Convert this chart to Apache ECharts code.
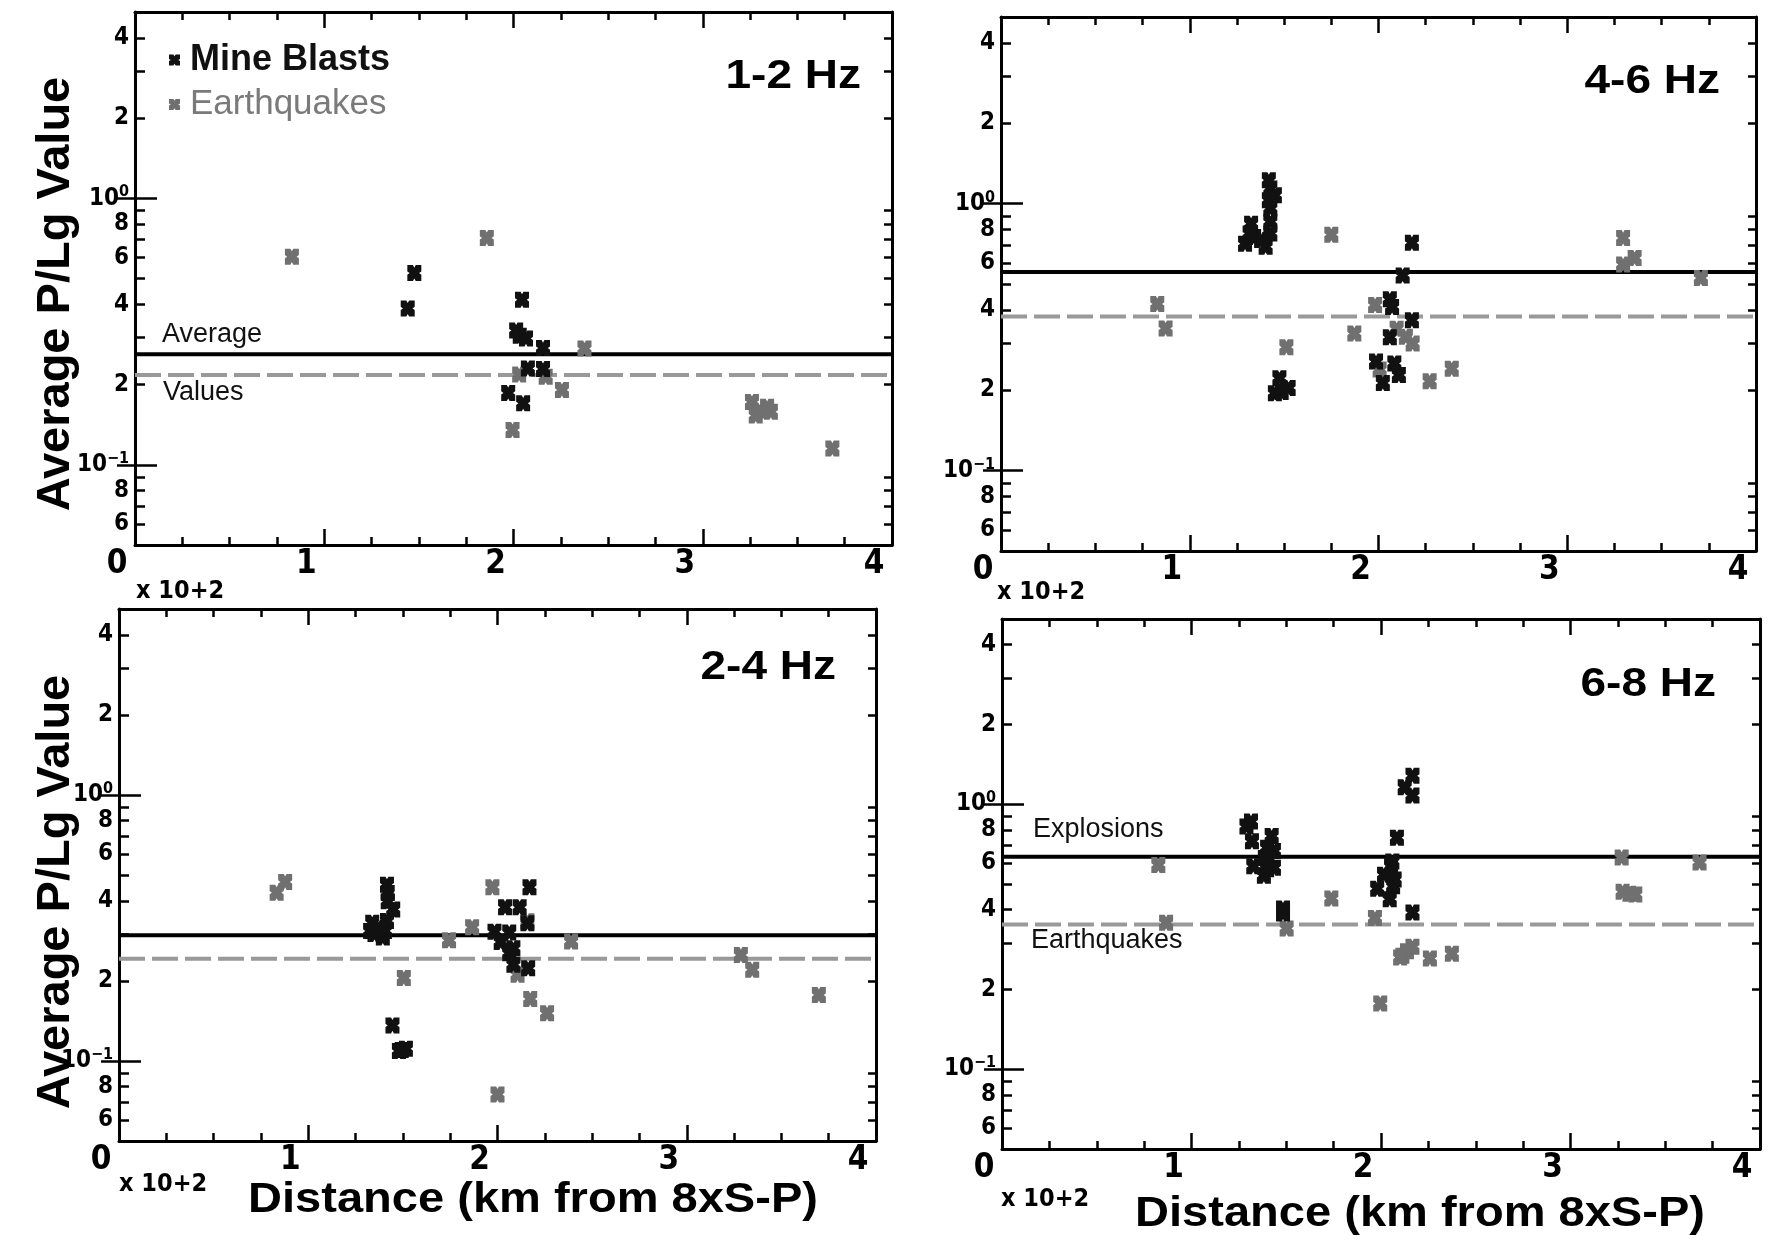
<!DOCTYPE html>
<html><head><meta charset="utf-8">
<script src="https://cdn.jsdelivr.net/npm/echarts@6/dist/echarts.min.js"></script>
<style>html,body{margin:0;padding:0;background:#fff}#c{width:1771px;height:1244px}</style>
</head><body><div id="c"></div>
<script>
// ---------- data ----------
const panelTitles = ['1-2 Hz', '4-6 Hz', '2-4 Hz', '6-8 Hz'];

// [distance km, average P/Lg]
const blasts12 = [[144.1,0.386],[147.6,0.524],[204.5,0.416],[201.4,0.319],[203.3,0.305],[206.6,0.298],[215.6,0.274],[207.6,0.230],[215.6,0.229],[197.2,0.186],[205.1,0.170]];
const quakes12 = [[82.9,0.604],[185.9,0.710],[237.5,0.273],[203,0.218],[217,0.214],[225.6,0.191],[199.5,0.135],[326,0.172],[330,0.160],[334,0.165],[328,0.153],[336,0.158],[368.5,0.115]];

const blasts46 = [[141.9,1.224],[142.7,1.139],[145.1,1.076],[141.9,1.03],[142.7,0.958],[132.5,0.841],[142.7,0.855],[129.3,0.708],[134.1,0.750],[137.8,0.730],[140.2,0.689],[142.7,0.773],[131.7,0.773],[217.7,0.713],[212.8,0.538],[206,0.438],[207.2,0.410],[217.7,0.366],[206,0.316],[198.7,0.256],[208.4,0.252],[210.8,0.228],[202.3,0.213],[147.5,0.222],[145.1,0.195],[148.7,0.197],[152.4,0.204]];
const quakes46 = [[82.8,0.421],[87.2,0.341],[175,0.765],[151.2,0.290],[187.2,0.326],[198.2,0.417],[209.6,0.340],[214.5,0.317],[218.1,0.299],[200.6,0.239],[227.1,0.216],[238.8,0.241],[329.6,0.743],[329.6,0.591],[335.7,0.626],[370.8,0.526]];

const blasts24 = [[141.6,0.460],[142,0.428],[142,0.398],[144.9,0.371],[133.8,0.331],[137.2,0.317],[132.7,0.308],[140.5,0.308],[139.4,0.291],[141.6,0.336],[135,0.300],[144.5,0.136],[149.4,0.110],[151.6,0.111],[147.9,0.109],[198.4,0.306],[204,0.378],[211.7,0.378],[216.9,0.450],[215.8,0.329],[201.7,0.280],[208.4,0.265],[206.2,0.254],[208.4,0.230],[216.2,0.223],[206.2,0.304]];
const quakes24 = [[83.3,0.429],[87.8,0.471],[150.5,0.205],[174.4,0.284],[186.6,0.318],[197.3,0.450],[200,0.0748],[215.8,0.335],[217.3,0.171],[226.2,0.151],[238.9,0.281],[210.6,0.211],[328.6,0.250],[334.6,0.220],[369.8,0.177]];

const blasts68 = [[131.4,0.860],[129,0.824],[131.9,0.725],[132.6,0.584],[138.2,0.537],[142.3,0.758],[139.9,0.685],[143.5,0.666],[141.1,0.620],[143.5,0.576],[139.9,0.568],[138.7,0.627],[148.3,0.404],[148.3,0.387],[216.6,1.28],[212.5,1.158],[216.6,1.079],[208.4,0.747],[206,0.608],[205.3,0.584],[201.6,0.542],[207.2,0.520],[198,0.480],[206.4,0.490],[204.6,0.438],[216.6,0.390]];
const quakes68 = [[82.5,0.590],[86.6,0.357],[150.2,0.340],[173.8,0.441],[196.8,0.372],[211.3,0.268],[213.7,0.279],[216.6,0.290],[210.1,0.264],[225.8,0.262],[237.4,0.273],[199.6,0.177],[327,0.629],[327.5,0.467],[331.1,0.459],[334.2,0.456],[368.1,0.603]];

const avgBlast = [0.26, 0.555, 0.297, 0.634];
const avgQuake = [0.217, 0.378, 0.242, 0.352];

const xRange = [0, 400];
const yRange = [0.05, 5];
const yLabelValues = [0.06, 0.08, 0.1, 0.2, 0.4, 0.6, 0.8, 1, 2, 4];
const yMinorTicks = [0.06, 0.07, 0.08, 0.09, 0.2, 0.3, 0.4, 0.5, 0.6, 0.7, 0.8, 0.9, 2, 3, 4];
const yMajorTicks = [0.1, 1];

const blastSets = [blasts12, blasts46, blasts24, blasts68];
const quakeSets = [quakes12, quakes46, quakes24, quakes68];

// ---------- layout ----------
const grids = [
  {left: 135, top: 12, width: 757, height: 533},
  {left: 1001, top: 17, width: 755, height: 534},
  {left: 119, top: 609, width: 757, height: 532},
  {left: 1002, top: 619, width: 758, height: 530}
];
const SANS = '"Liberation Sans", Arial, sans-serif';
const NARROW = '"Liberation Sans Narrow", "DejaVu Sans Condensed", "Arial Narrow", "Liberation Sans", sans-serif';
const XSHAPE = 'path://M0 0H4L5 1.6L6 0H10V4L8.4 5L10 6V10H6L5 8.4L4 10H0V6L1.6 5L0 4Z';
const AX = {color: '#000', width: 3};
const TK = {color: '#000', width: 2.5};

function yFmt(v) {
  if (Math.abs(v - 1) < 1e-9) return '{b|10}{s|0}';
  if (Math.abs(v - 0.1) < 1e-9) return '{b|10}{s|−1}';
  let d = v >= 1 ? v : (v >= 0.1 ? v * 10 : v * 100);
  return '{b|' + Math.round(d) + '}';
}

const xAxis = [], yAxis = [], series = [];
grids.forEach((g, i) => {
  const baseX = {gridIndex: i, type: 'value', min: xRange[0], max: xRange[1], interval: 100,
    axisLine: {show: true, onZero: false, lineStyle: AX},
    axisTick: {show: true, inside: true, length: 16, lineStyle: TK},
    minorTick: {show: true, splitNumber: 4, length: 8, lineStyle: TK},
    splitLine: {show: false}};
  xAxis.push(Object.assign({}, baseX, {position: 'bottom',
    axisLabel: {formatter: v => String(v / 100), fontSize: 33, fontWeight: 'bold', fontFamily: NARROW,
      color: '#000', margin: 3, padding: [0, 36, 0, 0]}}));
  xAxis.push(Object.assign({}, baseX, {position: 'top', axisLabel: {show: false}}));

  const baseY = {gridIndex: i, type: 'log', logBase: 10, min: yRange[0], max: yRange[1],
    splitLine: {show: false}, minorTick: {show: false}};
  yAxis.push(Object.assign({}, baseY, {position: 'left',
    axisLine: {show: true, onZero: false, lineStyle: AX},
    axisTick: {show: true, inside: true, length: 10, customValues: yMinorTicks, lineStyle: TK},
    axisLabel: {customValues: yLabelValues, formatter: yFmt, margin: 6, color: '#000',
      rich: {b: {fontSize: 24, fontWeight: 'bold', fontFamily: NARROW, color: '#000'},
             s: {fontSize: 16, fontWeight: 'bold', fontFamily: NARROW, color: '#000', padding: [0, 0, 12, 0]}}}}));
  yAxis.push(Object.assign({}, baseY, {position: 'left', axisLine: {show: false},
    axisTick: {show: true, inside: true, length: 22, customValues: yMajorTicks, lineStyle: TK},
    axisLabel: {show: false}}));
  yAxis.push(Object.assign({}, baseY, {position: 'right',
    axisLine: {show: true, onZero: false, lineStyle: AX},
    axisTick: {show: true, inside: true, length: 8, customValues: yMinorTicks, lineStyle: TK},
    axisLabel: {show: false}}));
  yAxis.push(Object.assign({}, baseY, {position: 'right', axisLine: {show: false},
    axisTick: {show: true, inside: true, length: 18, customValues: yMajorTicks, lineStyle: TK},
    axisLabel: {show: false}}));

  series.push({type: 'line', name: 'Blast average ' + panelTitles[i], xAxisIndex: i * 2, yAxisIndex: i * 4,
    data: [[xRange[0], avgBlast[i]], [xRange[1], avgBlast[i]]], symbol: 'none', silent: true,
    lineStyle: {color: '#000', width: 4}, z: 2});
  series.push({type: 'line', name: 'Quake average ' + panelTitles[i], xAxisIndex: i * 2, yAxisIndex: i * 4,
    data: [[xRange[0], avgQuake[i]], [xRange[1], avgQuake[i]]], symbol: 'none', silent: true,
    lineStyle: {color: '#999', width: 4, type: [26, 7]}, z: 2});
  series.push({type: 'scatter', name: 'Earthquakes', xAxisIndex: i * 2, yAxisIndex: i * 4,
    data: quakeSets[i], symbol: XSHAPE, symbolSize: [14, 16],
    itemStyle: {color: '#707070', opacity: 1}, z: 3});
  series.push({type: 'scatter', name: 'Mine Blasts', xAxisIndex: i * 2, yAxisIndex: i * 4,
    data: blastSets[i], symbol: XSHAPE, symbolSize: [14, 16],
    itemStyle: {color: '#111', opacity: 1}, z: 4});
});

function txt(x, y, text, o) {
  o = o || {};
  return {type: 'text', x: x, y: y, rotation: o.rot || 0, scaleX: o.sx || 1, z: 50,
    style: {text: text, fill: o.color || '#000', font: (o.weight || 'normal') + ' ' + o.size + 'px ' + (o.family || SANS),
      align: o.align || 'left', verticalAlign: 'middle'}};
}

const graphic = [
  txt(861, 77, panelTitles[0], {size: 40, weight: 'bold', align: 'right', sx: 1.15}),
  txt(1720, 82, panelTitles[1], {size: 40, weight: 'bold', align: 'right', sx: 1.15}),
  txt(836, 668, panelTitles[2], {size: 40, weight: 'bold', align: 'right', sx: 1.15}),
  txt(1716, 685, panelTitles[3], {size: 40, weight: 'bold', align: 'right', sx: 1.15}),
  txt(136, 591, 'x 10+2', {size: 25, weight: 'bold', family: NARROW}),
  txt(997, 592, 'x 10+2', {size: 25, weight: 'bold', family: NARROW}),
  txt(119, 1184, 'x 10+2', {size: 25, weight: 'bold', family: NARROW}),
  txt(1001, 1199, 'x 10+2', {size: 25, weight: 'bold', family: NARROW}),
  txt(56, 294, 'Average P/Lg Value', {size: 47, weight: 'bold', align: 'center', rot: Math.PI / 2}),
  txt(56, 892, 'Average P/Lg Value', {size: 47, weight: 'bold', align: 'center', rot: Math.PI / 2}),
  txt(533, 1200, 'Distance (km from 8xS-P)', {size: 42, weight: 'bold', align: 'center', sx: 1.12}),
  txt(1420, 1214, 'Distance (km from 8xS-P)', {size: 42, weight: 'bold', align: 'center', sx: 1.12}),
  txt(162, 335, 'Average', {size: 27, color: '#111'}),
  txt(163, 393, 'Values', {size: 27, color: '#111'}),
  txt(1033, 830, 'Explosions', {size: 27, color: '#111'}),
  txt(1031, 941, 'Earthquakes', {size: 27, color: '#111'})
];

const chart = echarts.init(document.getElementById('c'), null, {renderer: 'canvas'});
chart.setOption({
  backgroundColor: '#fff',
  animation: false,
  textStyle: {fontFamily: SANS},
  grid: grids.map(g => Object.assign({containLabel: false}, g)),
  xAxis: xAxis,
  yAxis: yAxis,
  legend: {left: 164, top: 37, orient: 'vertical', itemGap: 9, itemWidth: 11, itemHeight: 12,
    selectedMode: false,
    data: [
      {name: 'Mine Blasts', textStyle: {fontSize: 36, fontWeight: 'bold', color: '#111', padding: [0, 0, 0, 5]}},
      {name: 'Earthquakes', textStyle: {fontSize: 35, fontWeight: 'normal', color: '#7a7a7a', padding: [0, 0, 0, 5]}}
    ]},
  series: series,
  graphic: graphic
});
</script></body></html>
